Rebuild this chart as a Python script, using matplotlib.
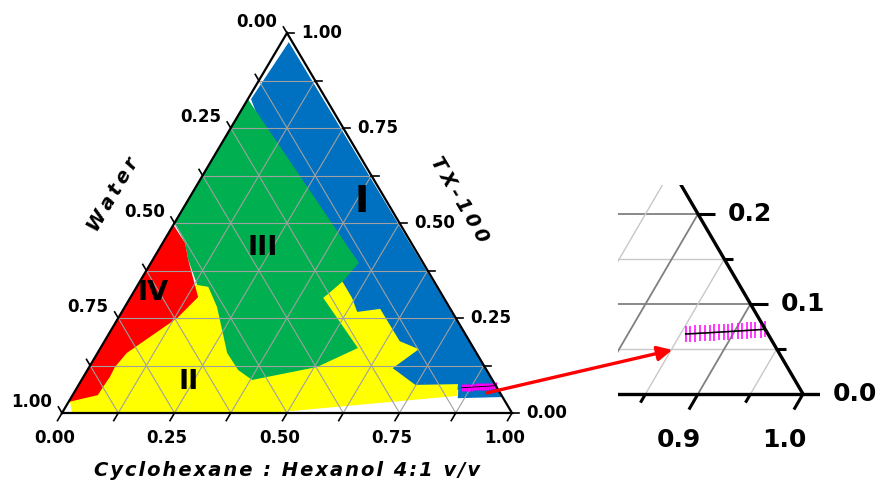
import numpy as np
import matplotlib
matplotlib.use('Agg')
import matplotlib.pyplot as plt

plt.rcParams['font.family'] = ['DejaVu Sans']

# phase boundaries as (oil, TX-100) fractions; water = 1 - oil - TX
# oil = Cyclohexane:Hexanol 4:1 v/v
blue_oil = [0.016, 0.958, 0.860, 0.850, 0.724, 0.509, 0.007]
blue_tx = [0.976, 0.042, 0.039, 0.061, 0.055, 0.218, 0.826]

yellow_oil = [0.022, 0.462, 0.855, 0.842, 0.748, 0.676, 0.709, 0.656, 0.570,
              0.523, 0.493, 0.449, 0.429, 0.130, 0.0, 0.0]
yellow_tx = [0.0, 0.0, 0.045, 0.076, 0.074, 0.118, 0.168, 0.189, 0.274,
             0.266, 0.303, 0.347, 0.303, 0.339, 0.339, 0.034]

green_oil = [0.0, 0.462, 0.451, 0.429, 0.572, 0.506, 0.379, 0.335, 0.288,
             0.205, 0.159, 0.132, 0.079, 0.050, 0.0]
green_tx = [0.826, 0.395, 0.347, 0.303, 0.171, 0.121, 0.087, 0.113, 0.158,
            0.279, 0.332, 0.337, 0.403, 0.447, 0.500]

red_oil = [0.0, 0.050, 0.079, 0.150, 0.131, 0.065, 0.057, 0.059, 0.057,
           0.056, 0.009, 0.0]
red_tx = [0.495, 0.447, 0.403, 0.305, 0.250, 0.158, 0.121, 0.095, 0.068,
          0.047, 0.032, 0.029]

# measured path near the oil corner
mag_oil = [0.855, 0.859, 0.864, 0.868, 0.873, 0.877, 0.881, 0.886, 0.890,
           0.894, 0.898, 0.903, 0.907, 0.911, 0.915, 0.919, 0.924, 0.928]
mag_tx = [0.0667, 0.0669, 0.0672, 0.0676, 0.0678, 0.0681, 0.0684, 0.0688, 0.0690,
          0.0693, 0.0697, 0.0700, 0.0702, 0.0706, 0.0709, 0.0712, 0.0716, 0.0720]
mag_err = 0.009

# region labels: (text, oil, tx)
phase_labels = [('I', 0.389, 0.555), ('III', 0.230, 0.434),
                ('IV', 0.044, 0.316), ('II', 0.241, 0.082)]

ticks = [0.0, 0.125, 0.25, 0.375, 0.5, 0.625, 0.75, 0.875, 1.0]
tick_labels = [0.0, 0.25, 0.5, 0.75, 1.0]
grid_vals = [0.125, 0.25, 0.375, 0.5, 0.625, 0.75, 0.875]

zoom_h = [0.05, 0.1, 0.15, 0.2]
zoom_oil = [0.75, 0.8, 0.85, 0.9, 0.95]
zoom_bottom = [0.85, 0.9, 0.95, 1.0]

# arrow: from main plot to inset (oil, tx)
arrow_from = (0.918, 0.053)
arrow_to = (0.851, 0.049)


def tern(oil, tx):
    oil = np.asarray(oil, float)
    tx = np.asarray(tx, float)
    return oil + tx / 2, tx


def sp(s, gap='\u2009'):
    return gap.join(s)


fig = plt.figure(figsize=(8.8, 4.82), dpi=100)
ax = fig.add_axes([62 / 880, 69 / 482, 450 / 880, 380 / 482])
ax.set_xlim(0, 1)
ax.set_ylim(0, 1)
ax.axis('off')

for o, t, c in [(blue_oil, blue_tx, '#0070C0'), (yellow_oil, yellow_tx, '#FFFF00'),
                (green_oil, green_tx, '#00B050'), (red_oil, red_tx, '#FF0000')]:
    x, y = tern(o, t)
    ax.fill(x, y, color=c, lw=0, zorder=1)

gc = '#a0a0a0'
for v in grid_vals:
    for o, t in [([0, 1 - v], [v, v]), ([v, v], [0, 1 - v]), ([1 - v, 0], [0, 1 - v])]:
        x, y = tern(o, t)
        ax.plot(x, y, color=gc, lw=0.8, zorder=2)

x, y = tern([0, 1, 0, 0], [0, 0, 1, 0])
ax.plot(x, y, color='k', lw=1.6, zorder=4, clip_on=False, solid_joinstyle='miter')

for v in ticks:
    for o, t in [([v, v], [0, -0.02]),
                 ([1 - v, 1 - v + 0.016], [v, v]),
                 ([0, -0.016], [1 - v, 1 - v + 0.016])]:
        x, y = tern(o, t)
        ax.plot(x, y, color='k', lw=1.2, zorder=4, clip_on=False)

tfont = dict(fontsize=12, fontweight='bold', ha='center', va='center',
             textcoords='offset points', annotation_clip=False)
for v in tick_labels:
    s = '%.2f' % v
    ax.annotate(s, tern(v, 0), xytext=(-5.4, -18), **tfont)
    ax.annotate(s, tern(1 - v, v), xytext=(25.2, 0), **tfont)
    ax.annotate(s, tern(0, 1 - v), xytext=(-21.6, 7.9), **tfont)

x, y = tern(mag_oil, mag_tx)
ax.errorbar(x, y, yerr=mag_err, fmt='-', color='k', lw=0.6, ecolor='#FF00FF',
            elinewidth=1.0, zorder=3)

for s, o, t in phase_labels:
    ax.text(*tern(o, t), s, fontsize=27.5 if s == 'I' else 19.5, fontweight='bold',
            ha='center', va='center', zorder=5)

tt = dict(fontsize=14, fontweight='bold', fontstyle='italic', ha='center', va='center')
ax.text(0.113, 0.574, sp('Water'), rotation=59.4, **tt)
ax.text(0.882, 0.5605, sp('TX-100'), rotation=-59.4, **tt)
ax.text(0.5, -0.15, sp('Cyclohexane : Hexanol 4:1 v/v', '\u200a'), clip_on=False, **tt)

# zoomed inset near the oil corner
ax_in = fig.add_axes([618 / 880, 61 / 482, 202 / 880, 236 / 482])
ax_in.set_xlim(0.82381, 1.01619)
ax_in.set_ylim(-0.03, 0.23222)
ax_in.axis('off')

dark, light = '#808080', '#c8c8c8'
for v in zoom_h:
    x, y = tern([0.5, 1 - v], [v, v])
    ax_in.plot(x, y, color=dark if v in (0.1, 0.2) else light,
               lw=1.3 if v in (0.1, 0.2) else 1.0, zorder=1)
for v in zoom_oil:
    x, y = tern([v, v], [0, 1 - v])
    ax_in.plot(x, y, color=dark if v in (0.8, 0.9) else light,
               lw=1.3 if v in (0.8, 0.9) else 1.0, zorder=1)

x, y = tern([0.5, 1.1], [0, 0])
ax_in.plot(x, y, color='k', lw=2.4, zorder=4, solid_capstyle='butt')
x, y = tern([1, 0.6], [0, 0.4])
ax_in.plot(x, y, color='k', lw=2.4, zorder=4, solid_capstyle='butt')

for v in zoom_h:
    L = 0.0162 if v in (0.1, 0.2) else 0.0086
    x, y = tern([1 - v, 1 - v + L], [v, v])
    ax_in.plot(x, y, color='k', lw=2.2, zorder=4, solid_capstyle='butt')
for v in zoom_bottom:
    L = 0.0173 if v in (0.9, 1.0) else 0.0096
    x, y = tern([v, v], [0, -L])
    ax_in.plot(x, y, color='k', lw=2.2, zorder=4, solid_capstyle='butt')

ifont = dict(fontsize=18, fontweight='bold', ha='center', va='center',
             textcoords='offset points', annotation_clip=False)
for v in [0.2, 0.1, 0.0]:
    ax_in.annotate('%.1f' % v, tern(1 - v, v), xytext=(37.4, 0), **ifont)
for v in [0.9, 1.0]:
    ax_in.annotate('%.1f' % v, tern(v, 0), xytext=(-13.7, -33.1), **ifont)

x, y = tern(mag_oil, mag_tx)
ax_in.errorbar(x, y, yerr=mag_err, fmt='-', color='k', lw=1.2, ecolor='#FF00FF',
               elinewidth=1.1, zorder=3)

ax_in.annotate('', xy=tern(*arrow_to), xycoords='data',
               xytext=tern(*arrow_from), textcoords=ax.transData,
               arrowprops=dict(arrowstyle='-|>', color='#FF0000', lw=2.4,
                               mutation_scale=22, shrinkA=0, shrinkB=0),
               annotation_clip=False)

fig.savefig('out.png', dpi=100)
